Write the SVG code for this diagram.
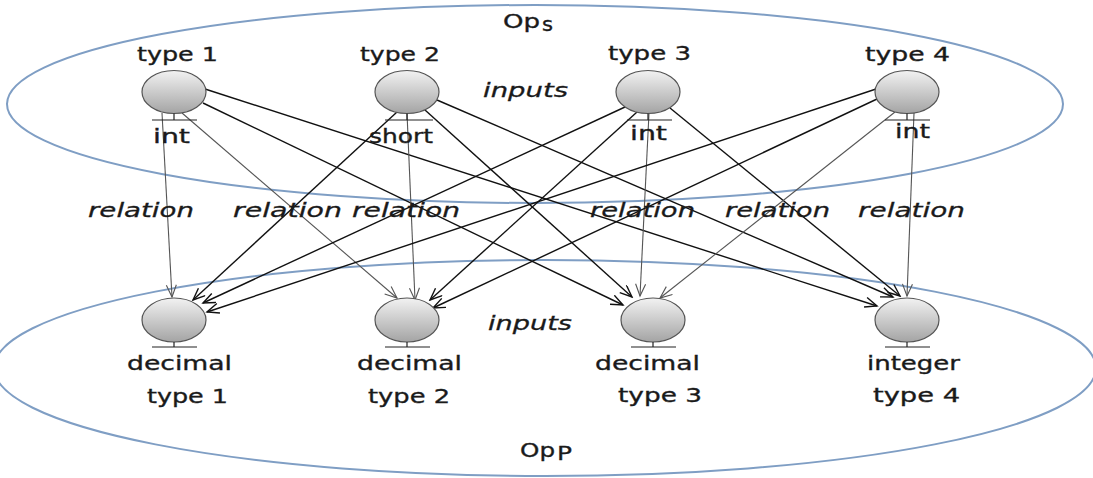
<svg xmlns="http://www.w3.org/2000/svg" width="1093" height="478" viewBox="0 0 1093 478">
  <style>
    .scope { fill: none; stroke: #7f9ec4; stroke-width: 2; }
    .ball { fill: url(#ballFill); stroke: #555; stroke-width: 1.2; }
    .port { stroke: #222; stroke-width: 1.2; fill: none; }
    .lbl { font-family: "DejaVu Sans", Verdana, sans-serif; font-size: 20px; fill: #1a1a1a; stroke: #1a1a1a; stroke-width: 0.35; }
    .it { font-family: "DejaVu Sans", Verdana, sans-serif; font-style: italic; font-size: 20px; fill: #1a1a1a; stroke: #1a1a1a; stroke-width: 0.3; }
    .dark { stroke: #111; stroke-width: 1.4; fill: none; marker-end: url(#tipDark); }
    .grey { stroke: #555; stroke-width: 1.1; fill: none; marker-end: url(#tipGrey); }
  </style>
  <defs>
    <linearGradient id="ballFill" x1="0" y1="0" x2="0" y2="1">
      <stop offset="0" stop-color="#f2f2f2"/>
      <stop offset="1" stop-color="#a4a4a4"/>
    </linearGradient>
    <marker id="tipDark" markerUnits="userSpaceOnUse" markerWidth="15" markerHeight="12" refX="13" refY="5.5" orient="auto">
      <path d="M1,0.5 L13,5.5 L1,10.5" fill="none" stroke="#111" stroke-width="1.4"/>
    </marker>
    <marker id="tipGrey" markerUnits="userSpaceOnUse" markerWidth="15" markerHeight="12" refX="13" refY="5.5" orient="auto">
      <path d="M1,0.5 L13,5.5 L1,10.5" fill="none" stroke="#555" stroke-width="1.1"/>
    </marker>
  </defs>

  <rect width="1093" height="478" fill="#fff"/>

  <!-- operation scopes -->
  <g id="scope-s">
    <ellipse class="scope" cx="535" cy="104" rx="528" ry="99"/>
    <text class="lbl" x="503" y="28" textLength="37" lengthAdjust="spacingAndGlyphs">Op</text>
    <text class="lbl" x="542" y="31" font-size="13" textLength="11" lengthAdjust="spacingAndGlyphs">s</text>
    <text class="it" x="483" y="97" textLength="85" lengthAdjust="spacingAndGlyphs">inputs</text>
  </g>
  <g id="scope-p">
    <ellipse class="scope" cx="545" cy="368" rx="551" ry="108"/>
    <text class="lbl" x="520" y="457" textLength="35" lengthAdjust="spacingAndGlyphs">Op</text>
    <text class="lbl" x="557" y="460" font-size="13" textLength="15" lengthAdjust="spacingAndGlyphs">P</text>
    <text class="it" x="488" y="330" textLength="84" lengthAdjust="spacingAndGlyphs">inputs</text>
  </g>

  <!-- relations between inputs -->
  <g id="connectors">
    <line class="grey" x1="162" y1="113" x2="172" y2="297"/>
    <line class="grey" x1="182" y1="113" x2="397" y2="298"/>
    <line class="dark" x1="203" y1="103" x2="623" y2="305"/>
    <line class="dark" x1="205" y1="89" x2="877" y2="306"/>

    <line class="dark" x1="397" y1="112" x2="193" y2="300"/>
    <line class="grey" x1="407" y1="113" x2="415" y2="300"/>
    <line class="dark" x1="425" y1="110" x2="632" y2="297"/>
    <line class="dark" x1="437" y1="100" x2="893" y2="297"/>

    <line class="dark" x1="625" y1="107" x2="203" y2="303"/>
    <line class="dark" x1="637" y1="112" x2="430" y2="300"/>
    <line class="grey" x1="649" y1="113" x2="640" y2="296"/>
    <line class="dark" x1="670" y1="108" x2="900" y2="296"/>

    <line class="dark" x1="876" y1="89" x2="207" y2="312"/>
    <line class="dark" x1="877" y1="99" x2="433" y2="308"/>
    <line class="grey" x1="895" y1="112" x2="660" y2="298"/>
    <line class="grey" x1="914" y1="113" x2="907" y2="296"/>

    <text class="it" x="88" y="217" textLength="106" lengthAdjust="spacingAndGlyphs">relation</text>
    <text class="it" x="233" y="217" textLength="109" lengthAdjust="spacingAndGlyphs">relation</text>
    <text class="it" x="352" y="217" textLength="108" lengthAdjust="spacingAndGlyphs">relation</text>
    <text class="it" x="590" y="217" textLength="105" lengthAdjust="spacingAndGlyphs">relation</text>
    <text class="it" x="725" y="217" textLength="105" lengthAdjust="spacingAndGlyphs">relation</text>
    <text class="it" x="858" y="217" textLength="107" lengthAdjust="spacingAndGlyphs">relation</text>
  </g>

  <!-- source inputs -->
  <g id="src-1">
    <text class="lbl" x="137" y="61" textLength="81" lengthAdjust="spacingAndGlyphs">type 1</text>
    <ellipse class="ball" cx="174" cy="92" rx="32" ry="21.5"/>
    <path class="port" d="M174,113.5 V120 M152,120 H197"/>
    <text class="lbl" x="153" y="143" textLength="37" lengthAdjust="spacingAndGlyphs">int</text>
  </g>
  <g id="src-2">
    <text class="lbl" x="360" y="61" textLength="80" lengthAdjust="spacingAndGlyphs">type 2</text>
    <ellipse class="ball" cx="407" cy="92" rx="32" ry="21.5"/>
    <path class="port" d="M407,113.5 V120 M385,120 H433"/>
    <text class="lbl" x="369" y="143" textLength="64" lengthAdjust="spacingAndGlyphs">short</text>
  </g>
  <g id="src-3">
    <text class="lbl" x="608" y="60" textLength="83" lengthAdjust="spacingAndGlyphs">type 3</text>
    <ellipse class="ball" cx="648" cy="92" rx="32" ry="21.5"/>
    <path class="port" d="M648,113.5 V120 M627,120 H672"/>
    <text class="lbl" x="630" y="140" textLength="37" lengthAdjust="spacingAndGlyphs">int</text>
  </g>
  <g id="src-4">
    <text class="lbl" x="865" y="61" textLength="85" lengthAdjust="spacingAndGlyphs">type 4</text>
    <ellipse class="ball" cx="907" cy="92" rx="32" ry="21.5"/>
    <path class="port" d="M907,113.5 V120 M885,120 H930"/>
    <text class="lbl" x="895" y="138" textLength="35" lengthAdjust="spacingAndGlyphs">int</text>
  </g>

  <!-- target inputs -->
  <g id="dst-1">
    <ellipse class="ball" cx="174" cy="320" rx="32" ry="22"/>
    <path class="port" d="M174,342 V347 M152,347 H197"/>
    <text class="lbl" x="127" y="370" font-size="21" textLength="105" lengthAdjust="spacingAndGlyphs">decimal</text>
    <text class="lbl" x="147" y="403" textLength="81" lengthAdjust="spacingAndGlyphs">type 1</text>
  </g>
  <g id="dst-2">
    <ellipse class="ball" cx="407" cy="320" rx="32" ry="22"/>
    <path class="port" d="M407,342 V347 M385,347 H430"/>
    <text class="lbl" x="357" y="370" font-size="21" textLength="105" lengthAdjust="spacingAndGlyphs">decimal</text>
    <text class="lbl" x="368" y="403" textLength="82" lengthAdjust="spacingAndGlyphs">type 2</text>
  </g>
  <g id="dst-3">
    <ellipse class="ball" cx="653" cy="320" rx="32" ry="22"/>
    <path class="port" d="M653,342 V347 M631,347 H676"/>
    <text class="lbl" x="595" y="370" font-size="21" textLength="105" lengthAdjust="spacingAndGlyphs">decimal</text>
    <text class="lbl" x="618" y="402" textLength="84" lengthAdjust="spacingAndGlyphs">type 3</text>
  </g>
  <g id="dst-4">
    <ellipse class="ball" cx="907" cy="320" rx="32" ry="22"/>
    <path class="port" d="M907,342 V347 M885,347 H930"/>
    <text class="lbl" x="867" y="370" font-size="21" textLength="93" lengthAdjust="spacingAndGlyphs">integer</text>
    <text class="lbl" x="873" y="402" textLength="87" lengthAdjust="spacingAndGlyphs">type 4</text>
  </g>
</svg>
